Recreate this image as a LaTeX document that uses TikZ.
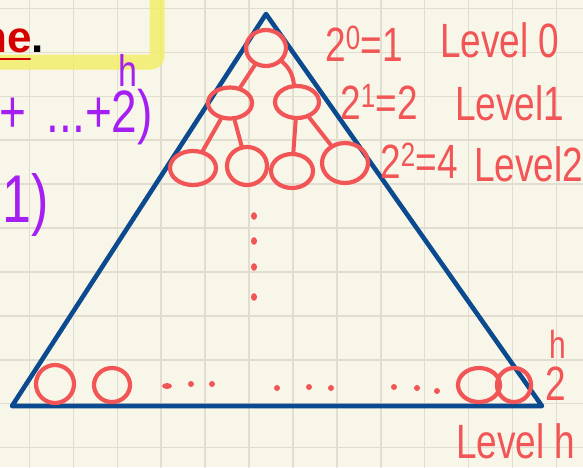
\documentclass[tikz,border=0pt]{standalone}
\usepackage{fontspec}
\setmainfont{Liberation Sans}
\usetikzlibrary{shapes.geometric}

\definecolor{paper}{HTML}{F8F5E9}
\definecolor{gridline}{HTML}{E1DED1}
\definecolor{tri}{HTML}{0B4A8E}
\definecolor{tree}{HTML}{F25555}
\definecolor{note}{HTML}{A51FF2}
\definecolor{word}{HTML}{D40000}
\definecolor{marker}{HTML}{F3EE6A}

\newcommand{\tall}[1]{\scalebox{1}[1.3]{#1}}

\begin{document}
\begin{tikzpicture}[
  x=1pt, y=-1pt,
  line cap=round, line join=round,
  every node/.style={inner sep=0pt},
  paperline/.style={draw=gridline, line width=1.6pt},
  highlight/.style={draw=marker, line width=15pt, opacity=0.85, rounded corners=6pt},
  tribox/.style={draw=tri, line width=4.6pt},
  vertex/.style={ellipse, draw=tree, line width=4.2pt, minimum width=40pt, minimum height=36pt},
  link/.style={draw=tree, line width=4pt},
  hand/.style={text=tree, font=\fontsize{37}{40}\selectfont},
  formula/.style={text=note, font=\fontsize{46}{50}\selectfont},
]
\useasboundingbox (0,0) rectangle (583,467);
\fill[paper] (0,0) rectangle (583,467);
\foreach \i in {0,...,12} \draw[paperline] (29.5+43.9*\i,0) -- (29.5+43.9*\i,467);
\foreach \j in {0,...,10} \draw[paperline] (0,8.5+43.9*\j) -- (583,8.5+43.9*\j);

\draw[highlight] (-20,62) -- (157,62) -- (157,-20);
\node[anchor=base east, font=\fontsize{44}{48}\selectfont\bfseries, text=word] (word) at (44,52) {ne\textcolor{black}{.}};
\draw[word, line width=2pt] (0,59) -- (30,59);

\node[formula, anchor=base east] (sumline) at (153,132) {\tall{+ \,...+2\makebox[0pt][r]{\raisebox{0.76em}{\fontsize{34}{36}\selectfont h}})}};
\node[formula, anchor=base west, font=\fontsize{52}{56}\selectfont] (close) at (2,222) {\tall{1)}};

\draw[tribox] (266,14) -- (542,406) -- (12,406) -- cycle;

\node[vertex] (r) at (266,48) {};
\node[vertex, minimum width=44pt, minimum height=31pt] (a) at (230,103) {};
\node[vertex, minimum width=44pt, minimum height=32pt] (b) at (297,102) {};
\node[vertex, minimum width=46pt, minimum height=34pt] (aa) at (193,168) {};
\node[vertex, minimum width=40pt, minimum height=38pt] (ab) at (247,166) {};
\node[vertex, minimum width=42pt, minimum height=34pt] (ba) at (292,171) {};
\node[vertex, minimum width=46pt, minimum height=40pt] (bb) at (345,163) {};
\draw[link] (r) -- (a);
\draw[link] (r) to[bend left=20] (b);
\draw[link] (a) -- (aa);
\draw[link] (a) -- (ab);
\draw[link] (b) -- (ba);
\draw[link] (b) -- (bb);

\foreach \y in {216,241,267,297} \fill[tree] (254,\y) ellipse (3 and 3.8);

\node[vertex, minimum width=38pt, minimum height=38pt] (h1) at (55,384) {};
\node[vertex, minimum width=36pt, minimum height=34pt] (h2) at (112,385) {};
\node[vertex, minimum width=42pt, minimum height=34pt] (h3) at (479,385) {};
\node[vertex, minimum width=34pt, minimum height=34pt] (h4) at (514,385) {};
\fill[tree] (167,386) ellipse (5 and 3);
\foreach \x/\y in {191/384,212/384,277/388,309/387,331/388,394/387,417/388,437/391}
  \fill[tree] (\x,\y) circle (3);

\node[hand, anchor=base west] (p0) at (325,61) {\tall{2\textsuperscript{0}=1}};
\node[hand, anchor=base west] (v0) at (440,57) {\tall{Level 0}};
\node[hand, anchor=base west] (p1) at (340,119) {\tall{2\textsuperscript{1}=2}};
\node[hand, anchor=base west] (v1) at (455,120) {\tall{Level1}};
\node[hand, anchor=base west] (p2) at (380,178) {\tall{2\textsuperscript{2}=4}};
\node[hand, anchor=base west] (v2) at (474,181) {\tall{Level2}};
\node[hand, anchor=base west] (ph) at (545,400) {\tall{2\makebox[0pt][r]{\raisebox{0.86em}{\fontsize{30}{32}\selectfont h}}}};
\node[hand, anchor=base west] (vh) at (456,458) {\tall{Level h}};
\end{tikzpicture}
\end{document}
